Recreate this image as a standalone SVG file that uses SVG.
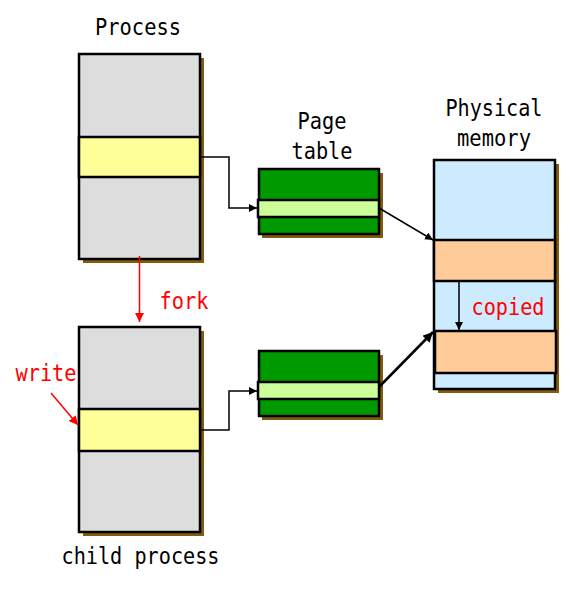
<svg xmlns="http://www.w3.org/2000/svg" width="573" height="596" viewBox="0 0 573 596">
<defs>
<style>
.sh{fill:#835A0E}
.box{stroke:#000;stroke-width:2.5}
.grey{fill:#DDDDDD}
.yel{fill:#FFFF99}
.grn{fill:#009900}
.lg{fill:#CCFF99}
.blu{fill:#CCEBFF}
.org{fill:#FFCC99}
.t{font-family:"DejaVu Sans Mono",monospace;font-size:22.5px;fill:#000;text-anchor:middle}
.r{fill:#FF0000}
.c{fill:none;stroke:#000;stroke-width:1.5}
</style>
<marker id="ab" viewBox="0 0 10 10" refX="10" refY="5" markerWidth="8" markerHeight="8" markerUnits="userSpaceOnUse" orient="auto"><path d="M0,0 L10,5 L0,10 z" fill="#000"/></marker>
<marker id="ab2" viewBox="0 0 10 10" refX="10" refY="5" markerWidth="10" markerHeight="10" markerUnits="userSpaceOnUse" orient="auto"><path d="M0,0 L10,5 L0,10 z" fill="#000"/></marker>
<marker id="ar" viewBox="0 0 10 10" refX="10" refY="5" markerWidth="9" markerHeight="9" markerUnits="userSpaceOnUse" orient="auto"><path d="M0,0 L10,5 L0,10 z" fill="#FF0000"/></marker>
</defs>
<g id="process">
<rect class="sh" x="83" y="58" width="121" height="205"/>
<rect class="box grey" x="79" y="54" width="121" height="205"/>
<rect class="box yel" x="79" y="137" width="121" height="40"/>
<text class="t" x="138" y="35" textLength="86" lengthAdjust="spacingAndGlyphs">Process</text>
</g>
<g id="child">
<rect class="sh" x="83" y="331" width="121" height="205"/>
<rect class="box grey" x="79" y="327" width="121" height="205"/>
<rect class="box yel" x="79" y="409" width="121" height="42"/>
<text class="t" x="140.5" y="564" textLength="158" lengthAdjust="spacingAndGlyphs">child process</text>
</g>
<g id="pt1">
<rect class="sh" x="262" y="173" width="121" height="65"/>
<rect class="box grn" x="259" y="169" width="120" height="65"/>
<rect class="box lg" x="258" y="200" width="121" height="17"/>
<text class="t" x="322" y="129" textLength="49" lengthAdjust="spacingAndGlyphs">Page</text>
<text class="t" x="322" y="159" textLength="61" lengthAdjust="spacingAndGlyphs">table</text>
</g>
<g id="pt2">
<rect class="sh" x="262" y="355" width="121" height="65"/>
<rect class="box grn" x="259" y="351" width="120" height="65"/>
<rect class="box lg" x="258" y="382" width="121" height="17"/>
</g>
<g id="mem">
<rect class="sh" x="438" y="164" width="121" height="229"/>
<rect class="box blu" x="434" y="160" width="121" height="229"/>
<rect class="box org" x="434" y="240" width="121" height="41"/>
<rect class="box org" x="435" y="331" width="121" height="42"/>
<text class="t" x="494" y="116" textLength="97" lengthAdjust="spacingAndGlyphs">Physical</text>
<text class="t" x="494" y="146" textLength="74" lengthAdjust="spacingAndGlyphs">memory</text>
<text class="t r" x="508" y="315" textLength="73" lengthAdjust="spacingAndGlyphs">copied</text>
</g>
<g id="labels">
<text class="t r" x="184" y="309" textLength="49" lengthAdjust="spacingAndGlyphs">fork</text>
<text class="t r" x="46" y="381" textLength="61" lengthAdjust="spacingAndGlyphs">write</text>
</g>
<g id="connectors">
<polyline class="c" points="200,157 229,157 229,208 257,208" marker-end="url(#ab)"/>
<polyline class="c" points="200,430 229,430 229,391 257,391" marker-end="url(#ab)"/>
<line class="c" x1="379" y1="208" x2="433" y2="240" marker-end="url(#ab)"/>
<line x1="379" y1="387" x2="433" y2="332" stroke="#000" stroke-width="2.5" marker-end="url(#ab2)"/>
<line class="c" x1="459" y1="281" x2="459" y2="330" marker-end="url(#ab)"/>
<line x1="139.5" y1="256" x2="139.5" y2="322" stroke="#FF0000" stroke-width="1.5" marker-end="url(#ar)"/>
<line x1="51" y1="393" x2="78" y2="425" stroke="#FF0000" stroke-width="1.5" marker-end="url(#ar)"/>
</g>
</svg>
